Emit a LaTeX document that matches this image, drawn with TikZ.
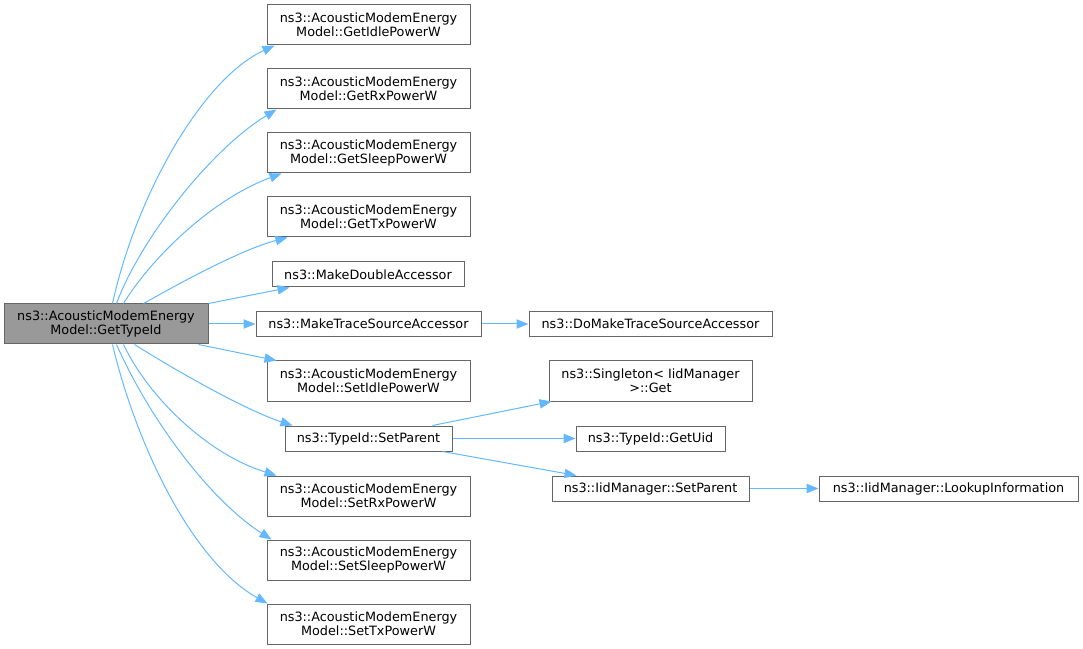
\documentclass[tikz,border=0pt]{standalone}
\usepackage{fontspec}
\setmainfont{DejaVu Sans}
\usetikzlibrary{arrows.meta,calc}
\definecolor{edgec}{HTML}{63B8FF}
\definecolor{boxc}{HTML}{666666}
\definecolor{mainfill}{HTML}{999999}
\tikzset{
  box/.style={draw=boxc, line width=0.75pt, fill=white, inner sep=0pt, align=center,
    font=\fontsize{9.6}{10.5}\selectfont, text=black},
  twoline/.style={box, minimum width=152.25pt, minimum height=30pt},
  oneline/.style={box, minimum height=18.75pt},
  mainbox/.style={twoline, fill=mainfill, minimum width=153pt},
  edge/.style={draw=edgec, line width=0.75pt, -{Triangle[length=9pt,width=7pt]}}
}
\begin{document}
\begin{tikzpicture}[x=0.75pt,y=-0.75pt]
\useasboundingbox (0,0) rectangle (1083,649);
% nodes
\node[mainbox] (main) at (106,324) {ns3::AcousticModemEnergy\\Model::GetTypeId};
\node[twoline] (gidle) at (368.5,25) {ns3::AcousticModemEnergy\\Model::GetIdlePowerW};
\node[twoline] (grx) at (368.5,89) {ns3::AcousticModemEnergy\\Model::GetRxPowerW};
\node[twoline] (gsleep) at (368.5,153) {ns3::AcousticModemEnergy\\Model::GetSleepPowerW};
\node[twoline] (gtx) at (368.5,217) {ns3::AcousticModemEnergy\\Model::GetTxPowerW};
\node[oneline, minimum width=144pt] (mdouble) at (368,274.5) {ns3::MakeDoubleAccessor};
\node[oneline, minimum width=168.75pt] (mtrace) at (368.5,324) {ns3::MakeTraceSourceAccessor};
\node[twoline] (sidle) at (368.5,381) {ns3::AcousticModemEnergy\\Model::SetIdlePowerW};
\node[oneline, minimum width=125.25pt] (tsp) at (368.5,438.5) {ns3::TypeId::SetParent};
\node[twoline] (srx) at (368.5,496) {ns3::AcousticModemEnergy\\Model::SetRxPowerW};
\node[twoline] (ssleep) at (368.5,560) {ns3::AcousticModemEnergy\\Model::SetSleepPowerW};
\node[twoline] (stx) at (368.5,624) {ns3::AcousticModemEnergy\\Model::SetTxPowerW};
\node[oneline, minimum width=182.25pt] (domake) at (650.5,324) {ns3::DoMakeTraceSourceAccessor};
\node[twoline] (sing) at (650.5,381) {ns3::Singleton\textless{} IidManager\\ \textgreater::Get};
\node[oneline, minimum width=111.75pt] (guid) at (650.5,438.5) {ns3::TypeId::GetUid};
\node[oneline, minimum width=147.75pt] (isp) at (650.5,488.5) {ns3::IidManager::SetParent};
\node[oneline, minimum width=194.25pt] (lookup) at (948.5,488.5) {ns3::IidManager::LookupInformation};
% edges
\draw[edge] ($(main.north west)+(109,0)$) .. controls (135,200) and (200,80) .. ($(gidle.south west)+(8,0)$);
\draw[edge] ($(main.north west)+(113,0)$) .. controls (140,240) and (210,150) .. ($(grx.south west)+(10,0)$);
\draw[edge] ($(main.north west)+(120,0)$) .. controls (150,260) and (210,200) .. ($(gsleep.south west)+(15,0)$);
\draw[edge] ($(main.north west)+(140,0)$) .. controls (180,283) and (240,250) .. ($(gtx.south west)+(21,0)$);
\draw[edge] (main.north east) -- ($(mdouble.south west)+(18,0)$);
\draw[edge] (main.east) -- (mtrace.west);
\draw[edge] ($(main.south east)+(-10,0)$) -- ($(sidle.north west)+(10,0)$);
\draw[edge] ($(main.south west)+(131,0)$) .. controls (175,370) and (245,410) .. ($(tsp.north west)+(8,0)$);
\draw[edge] ($(main.south west)+(120,0)$) .. controls (150,400) and (210,455) .. ($(srx.north west)+(10,0)$);
\draw[edge] ($(main.south west)+(113,0)$) .. controls (150,420) and (210,500) .. ($(ssleep.north west)+(5,0)$);
\draw[edge] ($(main.south west)+(109,0)$) .. controls (135,440) and (190,560) .. ($(stx.north west)+(1,0)$);
\draw[edge] (mtrace.east) -- (domake.west);
\draw[edge] ($(tsp.north east)+(-20,0)$) -- ($(sing.south west)+(3,0)$);
\draw[edge] (tsp.east) -- (guid.west);
\draw[edge] ($(tsp.south east)+(-10,0)$) -- ($(isp.north west)+(25,0)$);
\draw[edge] (isp.east) -- (lookup.west);
\end{tikzpicture}
\end{document}
